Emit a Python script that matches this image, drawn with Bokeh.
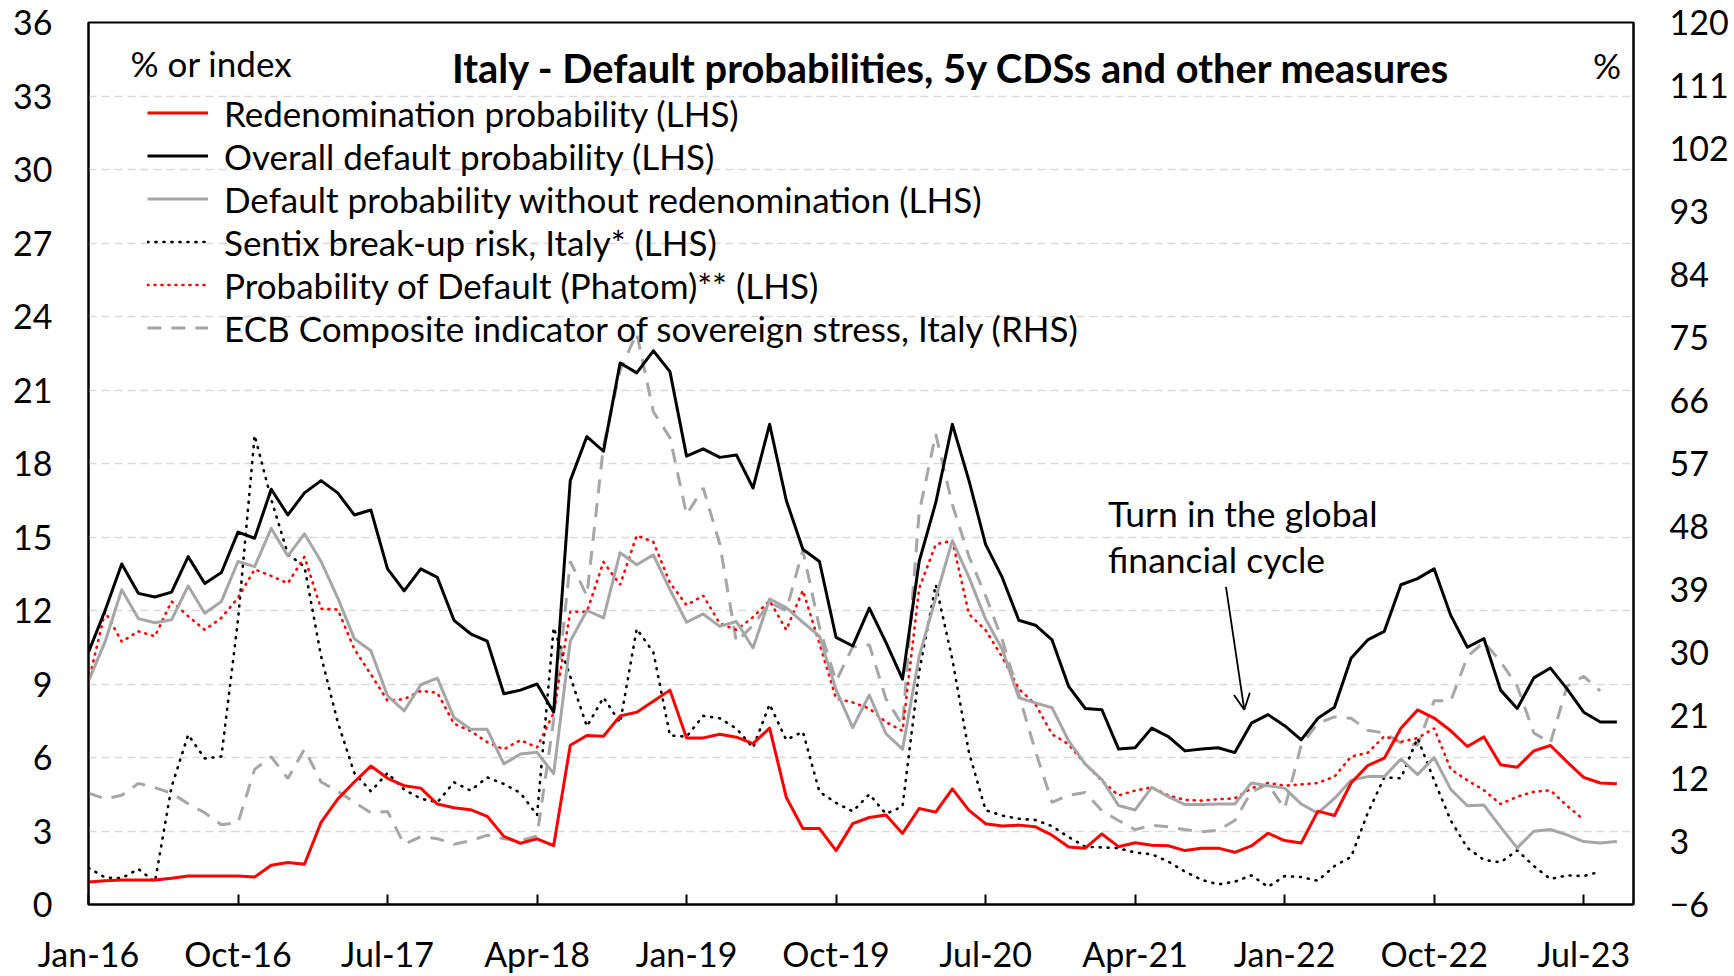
from bokeh.plotting import figure
from bokeh.models import (Range1d, LinearAxis, FixedTicker, Legend, LegendItem,
                          Label, Arrow, OpenHead)
from bokeh.embed import file_html
from bokeh.resources import INLINE

# ---- data (monthly, index 0 = Jan-16) ----
tick_months = [0, 9, 18, 27, 36, 45, 54, 63, 72, 81, 90]
tick_labels = ["Jan-16", "Oct-16", "Jul-17", "Apr-18", "Jan-19", "Oct-19",
               "Jul-20", "Apr-21", "Jan-22", "Oct-22", "Jul-23"]
lhs_ticks = [0, 3, 6, 9, 12, 15, 18, 21, 24, 27, 30, 33, 36]
rhs_ticks = [-6, 3, 12, 21, 30, 39, 48, 57, 66, 75, 84, 93, 102, 111, 120]

redenomination = [0.92, 0.97, 1.0, 1.0, 1.0, 1.07, 1.16, 1.16, 1.16, 1.16,
                  1.12, 1.6, 1.71, 1.64, 3.35, 4.3, 5.0, 5.65, 5.15, 4.85,
                  4.75, 4.1, 3.95, 3.87, 3.6, 2.78, 2.5, 2.68, 2.4, 6.5,
                  6.9, 6.87, 7.7, 7.85, 8.3, 8.75, 6.8, 6.8, 6.95, 6.83,
                  6.57, 7.2, 4.38, 3.1, 3.1, 2.2, 3.3, 3.55, 3.65, 2.9,
                  3.92, 3.77, 4.72, 3.84, 3.3, 3.2, 3.24, 3.17, 2.83, 2.35,
                  2.3, 2.88, 2.36, 2.52, 2.42, 2.4, 2.2, 2.3, 2.3, 2.13,
                  2.39, 2.91, 2.61, 2.51, 3.81, 3.63, 4.96, 5.67, 5.97, 7.19,
                  7.94, 7.61, 7.09, 6.45, 6.84, 5.7, 5.6, 6.27, 6.49, 5.82,
                  5.19, 4.96, 4.93]

overall_default = [10.3, 12.0, 13.9, 12.7, 12.55, 12.75, 14.2, 13.1, 13.55, 15.2,
                   14.95, 16.95, 15.9, 16.8, 17.3, 16.8, 15.9, 16.1, 13.7, 12.8,
                   13.7, 13.35, 11.6, 11.05, 10.75, 8.6, 8.75, 9.0, 7.85, 17.3,
                   19.1, 18.5, 22.1, 21.7, 22.6, 21.75, 18.3, 18.6, 18.25, 18.35,
                   17.0, 19.6, 16.5, 14.5, 14.0, 10.9, 10.55, 12.1, 10.7, 9.2,
                   14.0, 16.4, 19.6, 17.3, 14.7, 13.35, 11.6, 11.4, 10.8, 8.9,
                   8.0, 7.95, 6.35, 6.4, 7.2, 6.85, 6.27, 6.35, 6.4, 6.2,
                   7.4, 7.75, 7.3, 6.72, 7.6, 8.05, 10.05, 10.8, 11.15, 13.05,
                   13.3, 13.7, 11.8, 10.5, 10.85, 8.75, 8.0, 9.25, 9.65, 8.8,
                   7.85, 7.45, 7.45]

default_ex_redenom = [9.12, 10.73, 12.85, 11.67, 11.5, 11.62, 13.0, 11.89, 12.37, 14.0,
                      13.79, 15.35, 14.23, 15.13, 14.0, 12.52, 10.85, 10.36, 8.52, 7.9,
                      8.97, 9.24, 7.63, 7.15, 7.15, 5.74, 6.14, 6.21, 5.34, 10.75,
                      12.0, 11.7, 14.36, 13.87, 14.27, 12.85, 11.52, 11.86, 11.35, 11.55,
                      10.47, 12.47, 12.12, 11.52, 10.95, 8.76, 7.22, 8.55, 6.97, 6.34,
                      10.12, 12.52, 14.85, 13.35, 11.65, 10.42, 8.44, 8.23, 8.03, 6.68,
                      5.73, 5.1, 4.04, 3.86, 4.78, 4.4, 4.08, 4.08, 4.1, 4.1,
                      4.96, 4.85, 4.75, 4.1, 3.73, 4.33, 5.07, 5.22, 5.22, 5.94,
                      5.3, 6.0, 4.7, 4.03, 4.06, 3.16, 2.31, 2.99, 3.06, 2.84,
                      2.57, 2.51, 2.57]

sentix_breakup = [1.49, 1.1, 1.07, 1.45, 0.92, 4.8, 6.93, 5.96, 6.04, 11.62,
                  19.15, 16.54, 14.3, 13.79, 10.13, 7.45, 5.37, 4.62, 5.37, 4.69,
                  4.32, 4.17, 4.99, 4.65, 5.19, 4.92, 4.55, 3.65, 11.3, 9.3,
                  7.27, 8.45, 7.42, 11.25, 10.3, 6.9, 6.85, 7.7, 7.6, 7.18,
                  6.4, 8.17, 6.72, 7.05, 4.6, 4.15, 3.8, 4.5, 3.7, 4.0,
                  9.5, 13.05, 10.0, 6.2, 3.85, 3.63, 3.5, 3.45, 3.2, 2.75,
                  2.36, 2.33, 2.3, 2.12, 2.05, 1.75, 1.34, 1.01, 0.82, 0.93,
                  1.19, 0.72, 1.16, 1.12, 0.97, 1.57, 1.94, 3.73, 5.19, 5.15,
                  6.79, 5.07, 3.43, 2.31, 1.82, 1.72, 2.21, 1.57, 1.04, 1.19,
                  1.16, 1.34]

pd_phatom = [9.09, 11.95, 10.73, 11.15, 10.95, 12.37, 11.77, 11.21, 11.7, 12.52,
             13.68, 13.41, 13.11, 14.19, 12.07, 12.04, 10.43, 9.39, 8.32, 8.38,
             8.72, 8.64, 7.38, 7.08, 6.63, 6.33, 6.71, 6.41, 7.82, 11.95,
             11.95, 13.98, 13.05, 15.06, 14.8, 13.13, 12.22, 12.61, 11.47, 11.21,
             11.73, 12.4, 11.21, 12.82, 10.65, 8.41, 8.25, 8.0, 7.45, 7.09,
             12.9, 14.7, 14.85, 11.85, 11.2, 10.1, 8.8, 8.17, 6.95, 6.54,
             5.73, 5.05, 4.45, 4.65, 4.78, 4.45, 4.27, 4.24, 4.3, 4.33,
             4.75, 4.96, 4.85, 4.9, 4.96, 5.22, 6.04, 6.19, 6.87, 6.64,
             6.79, 7.19, 5.52, 5.07, 4.66, 4.1, 4.4, 4.6, 4.66, 4.03,
             3.46]

ecb_ciss = [9.9, 9.1, 9.6, 11.3, 10.7, 9.9, 8.4, 7.1, 5.4, 5.7,
            13.3, 15.1, 12.0, 16.2, 11.5, 10.2, 8.6, 7.1, 7.3, 2.6,
            3.7, 3.4, 2.6, 3.1, 3.9, 3.4, 3.1, 3.8, 20.3, 43.0,
            38.1, 59.5, 70.3, 75.6, 64.4, 60.7, 49.7, 53.5, 45.5, 31.5,
            33.9, 37.1, 36.0, 44.6, 33.6, 25.9, 30.8, 31.1, 23.4, 19.6,
            50.0, 61.2, 51.1, 43.7, 38.1, 31.8, 24.0, 15.9, 8.6, 9.6,
            10.0, 7.4, 6.0, 4.7, 5.3, 5.1, 4.7, 4.4, 4.6, 6.0,
            10.1, 11.2, 7.7, 16.8, 19.9, 20.8, 20.6, 18.9, 18.5, 17.1,
            16.8, 23.1, 23.1, 29.4, 31.5, 28.7, 25.2, 18.5, 17.1, 25.2,
            26.6, 24.5]

FONT = "Lato"
GRAY = "#A6A6A6"
TICK_FS = "34px"
TEXT_FS = "35px"

def months(series):
    return list(range(len(series)))

p = figure(width=1734, height=976, x_range=Range1d(0, 93), y_range=Range1d(0, 36),
           output_backend="svg", toolbar_location=None,
           min_border_left=88, min_border_right=101, min_border_top=22, min_border_bottom=70)
p.extra_y_ranges = {"rhs": Range1d(-6, 120)}
p.background_fill_color = "white"
p.border_fill_color = "white"
p.outline_line_color = "black"
p.outline_line_width = 2

# x axis
xa = p.xaxis[0]
xa.ticker = FixedTicker(ticks=tick_months)
xa.major_label_overrides = {m: l for m, l in zip(tick_months, tick_labels)}
xa.major_tick_in = 10
xa.major_tick_out = 0
xa.minor_tick_line_color = None
xa.major_tick_line_width = 2
xa.major_tick_line_color = "black"
xa.axis_line_color = "black"
xa.axis_line_width = 2
xa.major_label_standoff = 28
xa.major_label_text_font = FONT
xa.major_label_text_font_size = TICK_FS
xa.major_label_text_color = "black"

# left axis
ya = p.yaxis[0]
ya.ticker = FixedTicker(ticks=lhs_ticks)
ya.major_tick_in = 0
ya.major_tick_out = 0
ya.minor_tick_line_color = None
ya.axis_line_color = "black"
ya.axis_line_width = 2
ya.major_label_standoff = 36
ya.major_label_text_font = FONT
ya.major_label_text_font_size = TICK_FS
ya.major_label_text_color = "black"

# right axis
ra = LinearAxis(y_range_name="rhs", ticker=FixedTicker(ticks=rhs_ticks))
ra.major_tick_in = 0
ra.major_tick_out = 0
ra.minor_tick_line_color = None
ra.axis_line_color = "black"
ra.axis_line_width = 2
ra.major_label_standoff = 36
ra.major_label_text_font = FONT
ra.major_label_text_font_size = TICK_FS
ra.major_label_text_color = "black"
p.add_layout(ra, "right")

p.xgrid.grid_line_color = None
p.ygrid.grid_line_color = "#D9D9D9"
p.ygrid.grid_line_dash = "8 5"
p.ygrid.grid_line_width = 1.5

# series
r_ecb = p.line(months(ecb_ciss), ecb_ciss, y_range_name="rhs", line_color=GRAY,
               line_width=3, line_dash="14 10")
r_sentix = p.line(months(sentix_breakup), sentix_breakup, line_color="black",
                  line_width=2.6, line_dash="1 7", line_cap="round")
r_phatom = p.line(months(pd_phatom), pd_phatom, line_color="#FF0000",
                  line_width=2.6, line_dash="1 6", line_cap="round")
r_gray = p.line(months(default_ex_redenom), default_ex_redenom, line_color=GRAY,
                line_width=3, line_join="round")
r_black = p.line(months(overall_default), overall_default, line_color="black",
                 line_width=3, line_join="round")
r_red = p.line(months(redenomination), redenomination, line_color="#FF0000",
               line_width=3, line_join="round")

legend = Legend(items=[
    LegendItem(label="Redenomination probability (LHS)", renderers=[r_red]),
    LegendItem(label="Overall default probability (LHS)", renderers=[r_black]),
    LegendItem(label="Default probability without redenomination (LHS)", renderers=[r_gray]),
    LegendItem(label="Sentix break-up risk, Italy* (LHS)", renderers=[r_sentix]),
    LegendItem(label="Probability of Default (Phatom)** (LHS)", renderers=[r_phatom]),
    LegendItem(label="ECB Composite indicator of sovereign stress, Italy (RHS)", renderers=[r_ecb]),
], location=(59, 555), orientation="vertical", padding=0, margin=0, spacing=0,
   glyph_width=61, glyph_height=43, label_height=43, label_standoff=16,
   label_text_font=FONT, label_text_font_size=TEXT_FS, label_text_color="black",
   border_line_alpha=0, background_fill_alpha=0)
p.add_layout(legend)

title = Label(x=51.95, y=34.15, text="Italy - Default probabilities, 5y CDSs and other measures",
              text_align="center", text_baseline="alphabetic", text_font=FONT,
              text_font_style="bold", text_font_size="39.8px", text_color="black")
unit_l = Label(x=2.53, y=34.33, text="% or index", text_align="left",
               text_baseline="alphabetic", text_font=FONT, text_font_size=TEXT_FS,
               text_color="black")
unit_r = Label(x=91.4, y=34.25, text="%", text_align="center",
               text_baseline="alphabetic", text_font=FONT, text_font_size=TEXT_FS,
               text_color="black")
note1 = Label(x=61.37, y=15.95, text="Turn in the global", text_align="left",
              text_baseline="alphabetic", text_font=FONT, text_font_size="35.5px",
              text_color="black")
note2 = Label(x=61.37, y=14.1, text="financial cycle", text_align="left",
              text_baseline="alphabetic", text_font=FONT, text_font_size="35.5px",
              text_color="black")
for lab in (title, unit_l, unit_r, note1, note2):
    p.add_layout(lab)

arrow = Arrow(x_start=68.47, y_start=12.96, x_end=69.57, y_end=7.95,
              line_color="black", line_width=1.8,
              end=OpenHead(size=16, line_color="black", line_width=1.8))
p.add_layout(arrow)

open("out.html", "w").write(file_html(p, INLINE))
